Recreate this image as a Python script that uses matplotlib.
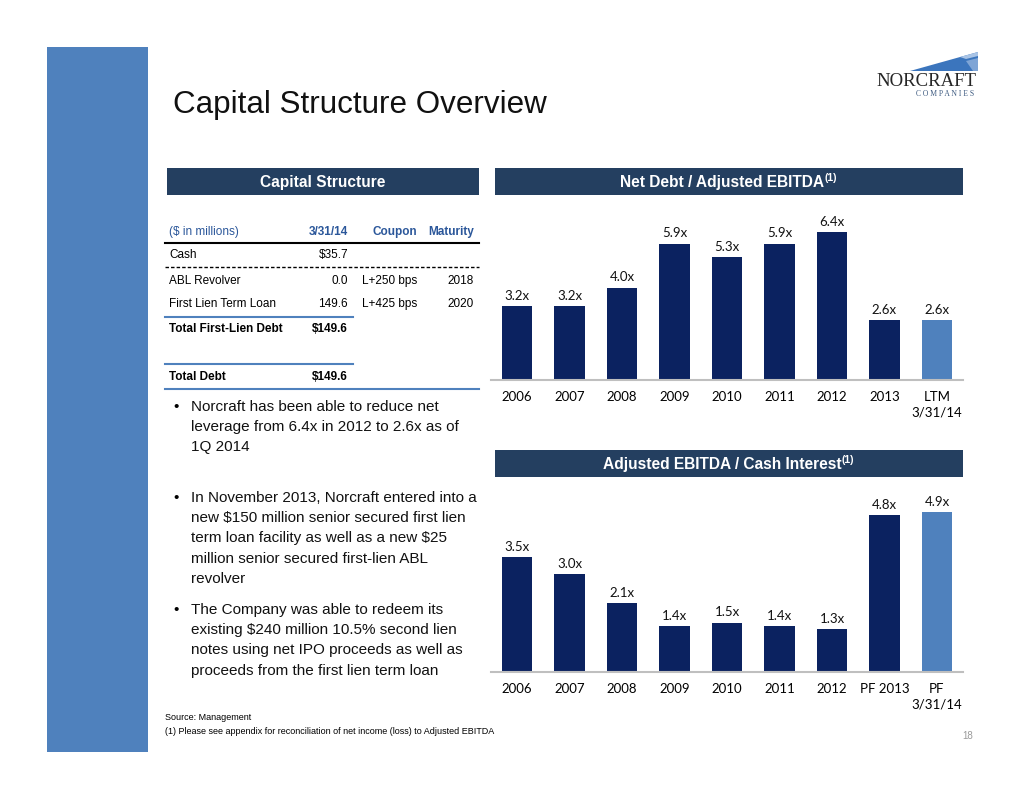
import numpy as np
import matplotlib
matplotlib.use('Agg')
import matplotlib.pyplot as plt
from matplotlib.patches import Rectangle, Polygon

# ---- data ----
lev_years = ['2006', '2007', '2008', '2009', '2010', '2011', '2012', '2013', 'LTM\n3/31/14']
lev_vals = [3.2, 3.2, 4.0, 5.9, 5.3, 5.9, 6.4, 2.6, 2.6]

cov_years = ['2006', '2007', '2008', '2009', '2010', '2011', '2012', 'PF 2013', 'PF\n3/31/14']
cov_vals = [3.5, 3.0, 2.1, 1.4, 1.5, 1.4, 1.3, 4.8, 4.9]

tbl_header = ['($ in millions)', '3/31/14', 'Coupon', 'Maturity']
tbl_labels = ['Cash', 'ABL Revolver', 'First Lien Term Loan', 'Total First-Lien Debt', 'Total Debt']
tbl_amounts = ['$35.7', '0.0', '149.6', '$149.6', '$149.6']
tbl_coupons = ['', 'L+250 bps', 'L+425 bps', '', '']
tbl_maturity = ['', '2018', '2020', '', '']

bullets = [
    ['Norcraft has been able to reduce net', 'leverage from 6.4x in 2012 to 2.6x as of', '1Q 2014'],
    ['In November 2013, Norcraft entered into a', 'new $150 million senior secured first lien',
     'term loan facility as well as a new $25', 'million senior secured first-lien ABL', 'revolver'],
    ['The Company was able to redeem its', 'existing $240 million 10.5% second lien',
     'notes using net IPO proceeds as well as', 'proceeds from the first lien term loan'],
]

navy = '#0B2260'
light = '#4F81BD'
hdr = '#243F60'
W, H = 1034, 799
arial = ['Liberation Sans', 'DejaVu Sans']
calib = ['Lato', 'DejaVu Sans']

fig = plt.figure(figsize=(W / 100, H / 100), dpi=100)
bg = fig.add_axes([0, 0, 1, 1])
bg.set_xlim(0, W)
bg.set_ylim(H, 0)
bg.axis('off')

# left stripe
bg.add_patch(Rectangle((47, 47), 101, 705, color=light, lw=0))

# title
bg.text(173, 105, 'Capital Structure Overview', fontsize=22.6, family=arial,
        color='#111111', va='center', ha='left')

# logo
bg.add_patch(Polygon([(910, 71), (978, 52), (978, 71)], closed=True, color='#3B75BD', lw=0))
bg.add_patch(Polygon([(960, 57), (978, 52), (978, 56), (966, 59)], closed=True, color='#A9C4E6', lw=0))
bg.add_patch(Polygon([(966, 61), (978, 58), (978, 71), (973, 71)], closed=True, color='#7FA5D6', lw=0))
bg.text(926.5, 82, 'NORCRAFT', fontsize=13.5, family=['Liberation Serif', 'DejaVu Serif'],
        color='#262626', ha='center', va='center')
bg.text(945, 94, 'C O M P A N I E S', fontsize=5.5, family=['Liberation Serif', 'DejaVu Serif'],
        color='#3D5A80', ha='center', va='center')

# header bars
def header(x0, x1, y0, text, sup=False):
    bg.add_patch(Rectangle((x0, y0), x1 - x0, 27, color=hdr, lw=0))
    cx = (x0 + x1) / 2 - (7 if sup else 0)
    t = bg.text(cx, y0 + 14, text, fontsize=11.2, family=arial, weight='bold',
                color='white', ha='center', va='center')
    if sup:
        bg.annotate('(1)', xy=(1, 0.75), xycoords=t, fontsize=7.5, family=arial,
                    weight='bold', color='white', ha='left', va='center')

header(167, 479, 168, 'Capital Structure')
header(495, 963, 168, 'Net Debt / Adjusted EBITDA', sup=True)
header(495, 963, 450, 'Adjusted EBITDA / Cash Interest', sup=True)

# table
tblue = '#2B579A'
fs_t = 8.5
hy = 232
bg.text(169, hy, tbl_header[0], fontsize=fs_t, family=arial, color=tblue, va='center')
for x, s in zip([348, 417, 474], tbl_header[1:]):
    bg.text(x, hy, s, fontsize=fs_t, family=arial, color=tblue, weight='bold', va='center', ha='right')
bg.plot([165, 479], [243, 243], color='black', lw=1.5)
row_y = [255, 281, 304, 329, 377]
for i, y in enumerate(row_y):
    wt = 'bold' if tbl_labels[i].startswith('Total') else 'normal'
    bg.text(169, y, tbl_labels[i], fontsize=fs_t, family=arial, weight=wt, va='center')
    bg.text(348, y, tbl_amounts[i], fontsize=fs_t, family=arial, weight=wt, va='center', ha='right')
    bg.text(362, y, tbl_coupons[i], fontsize=fs_t, family=arial, va='center', ha='left')
    bg.text(474, y, tbl_maturity[i], fontsize=fs_t, family=arial, va='center', ha='right')
bg.plot([165, 479], [267, 267], color='black', lw=1, ls=(0, (2.5, 1.5)))
bg.plot([165, 353], [317, 317], color=light, lw=1.5)
bg.plot([165, 353], [364, 364], color=light, lw=1.5)
bg.plot([165, 479], [389, 389], color=light, lw=1.5)

# bullets
starts = [406, 497, 609]
for lines, y0 in zip(bullets, starts):
    bg.text(173, y0 + 5, '\u2022', fontsize=11, family=arial, va='baseline')
    for k, s in enumerate(lines):
        bg.text(191, y0 + 5 + k * 20.2, s, fontsize=11, family=arial, va='baseline', color='#111111')

# footnotes
narrow = ['Liberation Sans Narrow', 'Liberation Sans']
bg.text(165, 717, 'Source: Management', fontsize=6.5, family=narrow, va='center')
bg.text(165, 731, '(1) Please see appendix for reconciliation of net income (loss) to Adjusted EBITDA',
        fontsize=6.5, family=narrow, va='center')
bg.text(973, 736, '18', fontsize=7, family=narrow, color='#9A9A9A', va='center', ha='right')


def bar_chart(cats, vals, base_px, scale, top_px):
    step = 52.5
    left = 517 - step / 2
    ymax = (base_px - top_px) / scale
    ax = fig.add_axes([left / W, (H - base_px) / H, 9 * step / W, (base_px - top_px) / H])
    x = np.arange(len(vals))
    colors = [navy] * (len(vals) - 1) + [light]
    ax.bar(x, vals, width=0.59, color=colors)
    for xi, v in zip(x, vals):
        ax.annotate(f'{v:.1f}x', (xi, v), xytext=(0, 3), textcoords='offset points',
                    ha='center', va='bottom', fontsize=9.5, family=calib, color='#111111')
    ax.set_xlim(-0.5, len(vals) - 0.5)
    ax.set_ylim(0, ymax)
    ax.set_xticks(x)
    ax.set_xticklabels(cats, fontsize=9.5, family=calib, linespacing=1.35)
    ax.tick_params(axis='x', length=0, pad=8)
    ax.set_yticks([])
    for s in ['top', 'left', 'right']:
        ax.spines[s].set_visible(False)
    ax.spines['bottom'].set_color('#BFBFBF')
    ax.spines['bottom'].set_linewidth(1.5)
    ax.patch.set_alpha(0)
    return ax

bar_chart(lev_years, lev_vals, 380, 23.125, 200)
bar_chart(cov_years, cov_vals, 671.5, 32.6, 490)

fig.savefig('out.png', dpi=100)
